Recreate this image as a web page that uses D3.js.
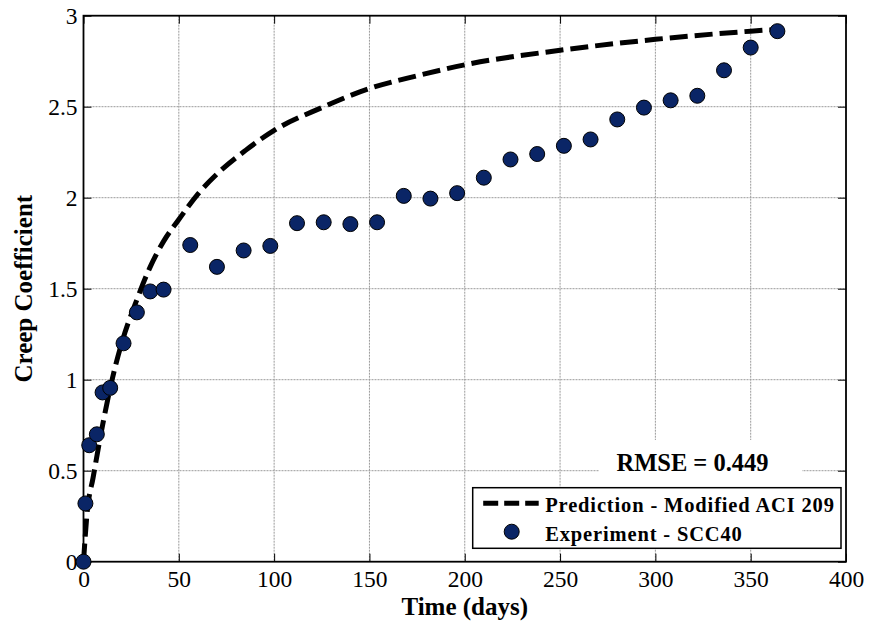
<!DOCTYPE html>
<html>
<head>
<meta charset="utf-8">
<script src="https://cdn.jsdelivr.net/npm/d3@7"></script>
<style>
  body { margin: 0; background: #fff; }
  text { font-family: "Liberation Serif", "Times New Roman", serif; }
</style>
</head>
<body>
<div id="graph"></div>
<script>
// données
var expDays = [0, 1, 3, 7, 10, 14, 21, 28, 35, 42, 56, 70, 84, 98, 112, 126, 140, 154,
               168, 182, 196, 210, 224, 238, 252, 266, 280, 294, 308, 322, 336, 350, 364];
var expCreep = [0, 0.32, 0.64, 0.70, 0.93, 0.955, 1.20, 1.37, 1.485, 1.495, 1.74, 1.62, 1.71, 1.735, 1.86, 1.865, 1.855, 1.865,
                2.01, 1.995, 2.025, 2.11, 2.21, 2.24, 2.285, 2.32, 2.43, 2.495, 2.535, 2.56, 2.70, 2.825, 2.915];
var predDays = [0, 2, 5, 10, 15, 20, 28, 35, 42, 50, 60, 70, 85, 100, 125, 150, 175, 200, 250, 300, 350, 364];
var predCreep = [0, 0.28, 0.46, 0.75, 1.00, 1.20, 1.44, 1.62, 1.76, 1.88, 2.02, 2.13, 2.26, 2.37, 2.495, 2.60, 2.67, 2.73, 2.81, 2.87, 2.915, 2.925];
var xTicks = [0, 50, 100, 150, 200, 250, 300, 350, 400];
var yTicks = [0, 0.5, 1, 1.5, 2, 2.5, 3];
var legendLabels = ["Prediction - Modified ACI 209", "Experiment - SCC40"];
var rmseLabel = "RMSE = 0.449";

var totalWidth = 871, totalHeight = 626,
    margin = {top: 15.7, right: 25, bottom: 64.3, left: 83.5},
    width = totalWidth - margin.left - margin.right,
    height = totalHeight - margin.top - margin.bottom;

var x = d3.scaleLinear().domain([0, 400]).range([0, width]),
    y = d3.scaleLinear().domain([0, 3]).range([height, 0]);

var svg = d3.select("#graph").append("svg")
    .attr("width", totalWidth)
    .attr("height", totalHeight)
    .append("g")
    .attr("transform", "translate(" + margin.left + "," + margin.top + ")");

// grille
var grille = svg.append("g").attr("class", "grid");
grille.selectAll("line.gx")
    .data(xTicks.slice(1, -1))
    .enter().append("line")
    .attr("x1", function(d) { return x(d); })
    .attr("x2", function(d) { return x(d); })
    .attr("y1", 0).attr("y2", height);
grille.selectAll("line.gy")
    .data(yTicks.slice(1, -1))
    .enter().append("line")
    .attr("y1", function(d) { return y(d); })
    .attr("y2", function(d) { return y(d); })
    .attr("x1", 0).attr("x2", width);
grille.selectAll("line")
    .attr("stroke", "#9a9a9a")
    .attr("stroke-width", 1)
    .attr("stroke-dasharray", "2,1");

// axes (ticks vers l'intérieur)
svg.append("g")
    .attr("transform", "translate(0," + height + ")")
    .call(d3.axisBottom(x).tickValues(xTicks).tickSize(-8).tickPadding(9).tickFormat(function(d) { return d; }));
svg.append("g")
    .call(d3.axisLeft(y).tickValues(yTicks).tickSize(-8).tickPadding(6).tickFormat(function(d) { return d; }));
svg.append("g")
    .call(d3.axisTop(x).tickValues(xTicks).tickSize(-8).tickFormat(""));
svg.append("g")
    .attr("transform", "translate(" + width + ",0)")
    .call(d3.axisRight(y).tickValues(yTicks).tickSize(-8).tickFormat(""));
svg.selectAll(".domain").remove();
svg.selectAll(".tick line").attr("stroke", "#000").attr("stroke-width", 1);
svg.selectAll(".tick text")
    .attr("fill", "#000")
    .attr("font-family", "Liberation Serif, Times New Roman, serif")
    .attr("font-size", 23.5)
    .style("font-size", "23.5px");

// cadre
svg.append("rect")
    .attr("width", width)
    .attr("height", height)
    .attr("fill", "none")
    .attr("stroke", "#000")
    .attr("stroke-width", 1.8);

// courbe de prédiction
var pred = predDays.map(function(d, i) { return {t: d, v: predCreep[i]}; });
var ligne = d3.line()
    .x(function(d) { return x(d.t); })
    .y(function(d) { return y(d.v); })
    .curve(d3.curveMonotoneX);
svg.append("path")
    .datum(pred)
    .attr("fill", "none")
    .attr("stroke", "#000")
    .attr("stroke-width", 5)
    .attr("stroke-dasharray", "18,7")
    .attr("d", ligne);

// points expérimentaux
var exp = expDays.map(function(d, i) { return {t: d, v: expCreep[i]}; });
svg.append("g")
    .selectAll("circle")
    .data(exp)
    .enter().append("circle")
    .attr("cx", function(d) { return x(d.t); })
    .attr("cy", function(d) { return y(d.v); })
    .attr("r", 7.5)
    .attr("fill", "#0a2566")
    .attr("stroke", "#000")
    .attr("stroke-width", 1);

// RMSE
svg.append("rect")
    .attr("x", 599 - margin.left)
    .attr("y", 440 - margin.top)
    .attr("width", 203)
    .attr("height", 47)
    .attr("fill", "#fff");
svg.append("text")
    .attr("x", 692.5 - margin.left)
    .attr("y", 471.5 - margin.top)
    .attr("text-anchor", "middle")
    .attr("font-weight", "bold")
    .attr("font-size", "24.5px")
    .attr("fill", "#000")
    .text(rmseLabel);

// légende
var leg = svg.append("g")
    .attr("transform", "translate(" + (472.7 - margin.left) + "," + (487.7 - margin.top) + ")");
leg.append("rect")
    .attr("width", 368.3)
    .attr("height", 60.6)
    .attr("fill", "#fff")
    .attr("stroke", "#000")
    .attr("stroke-width", 1.5);
leg.append("line")
    .attr("x1", 10.5).attr("x2", 66)
    .attr("y1", 15.6).attr("y2", 15.6)
    .attr("stroke", "#000")
    .attr("stroke-width", 5)
    .attr("stroke-dasharray", "15,6");
leg.append("circle")
    .attr("cx", 39).attr("cy", 44)
    .attr("r", 7.5)
    .attr("fill", "#0a2566")
    .attr("stroke", "#000")
    .attr("stroke-width", 1);
leg.selectAll("text.lab")
    .data(legendLabels)
    .enter().append("text")
    .attr("class", "lab")
    .attr("x", 72.5)
    .attr("y", function(d, i) { return 24 + i * 29.3; })
    .attr("font-weight", "bold")
    .attr("font-size", "20.5px")
    .attr("letter-spacing", "0.85px")
    .attr("fill", "#000")
    .text(function(d) { return d; });

// titres des axes
svg.append("text")
    .attr("x", width / 2)
    .attr("y", 615 - margin.top)
    .attr("text-anchor", "middle")
    .attr("font-weight", "bold")
    .attr("font-size", "25px")
    .attr("fill", "#000")
    .text("Time (days)");
svg.append("text")
    .attr("transform", "translate(" + (32 - margin.left) + "," + (height / 2) + ") rotate(-90)")
    .attr("text-anchor", "middle")
    .attr("font-weight", "bold")
    .attr("font-size", "25px")
    .attr("fill", "#000")
    .text("Creep Coefficient");
</script>
</body>
</html>
